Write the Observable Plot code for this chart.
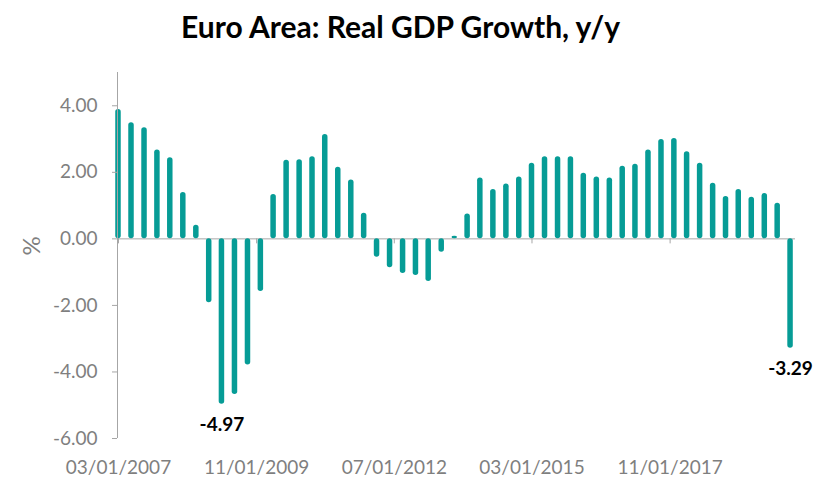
<!DOCTYPE html>
<html><head><meta charset="utf-8">
<script src="https://cdn.jsdelivr.net/npm/d3@7"></script>
<script src="https://cdn.jsdelivr.net/npm/@observablehq/plot@0.6"></script>
<style>
body{margin:0;background:#fff;font-family:Lato,sans-serif;}
#title{height:60px;box-sizing:border-box;padding-top:11px;padding-right:12px;text-align:center;font-weight:bold;font-size:30px;line-height:1;color:#000;}
#chart svg{display:block;}
</style></head><body>
<div id="title">Euro Area: Real GDP Growth, y/y</div>
<div id="chart"></div>
<script>
const quarters = [
 "2007-03-01","2007-06-01","2007-09-01","2007-12-01",
 "2008-03-01","2008-06-01","2008-09-01","2008-12-01",
 "2009-03-01","2009-06-01","2009-09-01","2009-12-01",
 "2010-03-01","2010-06-01","2010-09-01","2010-12-01",
 "2011-03-01","2011-06-01","2011-09-01","2011-12-01",
 "2012-03-01","2012-06-01","2012-09-01","2012-12-01",
 "2013-03-01","2013-06-01","2013-09-01","2013-12-01",
 "2014-03-01","2014-06-01","2014-09-01","2014-12-01",
 "2015-03-01","2015-06-01","2015-09-01","2015-12-01",
 "2016-03-01","2016-06-01","2016-09-01","2016-12-01",
 "2017-03-01","2017-06-01","2017-09-01","2017-12-01",
 "2018-03-01","2018-06-01","2018-09-01","2018-12-01",
 "2019-03-01","2019-06-01","2019-09-01","2019-12-01",
 "2020-03-01"];
const growth = [
 3.89, 3.49, 3.34, 2.67,
 2.44, 1.39, 0.41, -1.92,
 -4.97, -4.68, -3.79, -1.58,
 1.33, 2.36, 2.38, 2.47,
 3.14, 2.15, 1.77, 0.77,
 -0.55, -0.87, -1.04, -1.10,
 -1.28, -0.40, 0.08, 0.75,
 1.83, 1.48, 1.65, 1.86,
 2.27, 2.47, 2.47, 2.47,
 1.97, 1.86, 1.83, 2.18,
 2.24, 2.67, 2.99, 3.02,
 2.62, 2.27, 1.67, 1.27,
 1.48, 1.25, 1.36, 1.07,
 -3.29];
const labeledQuarters = ["2009-03-01", "2020-03-01"];
const xTickDates = ["2007-03-01","2009-11-01","2012-07-01","2015-03-01","2017-11-01"];
const xTickLabels = ["03/01/2007","11/01/2009","07/01/2012","03/01/2015","11/01/2017"];
const yTicks = [-6, -4, -2, 0, 2, 4];
const xDomainDates = ["2007-02-22", "2020-04-05"];
const yDomain = [-6, 5];

const parse = d3.utcParse("%Y-%m-%d");
const data = quarters.map((q, i) => ({date: parse(q), value: growth[i]}));
const labeled = data.filter(d => labeledQuarters.includes(d3.utcFormat("%Y-%m-%d")(d.date)));
const xTicks = xTickDates.map(parse);
const tickLabelMap = new Map(xTicks.map((d, i) => [+d, xTickLabels[i]]));
const xDomain = xDomainDates.map(parse);

const teal = "#069c96";
const grayLine = "#a6a6a6";
const grayText = "#7f7f7f";

const chart = Plot.plot({
  width: 813,
  height: 427,
  marginTop: 12,
  marginBottom: 49,
  marginLeft: 117,
  marginRight: 18,
  style: {fontFamily: "Lato, sans-serif", background: "#fff"},
  x: {type: "utc", domain: xDomain},
  y: {domain: yDomain},
  marks: [
    Plot.ruleY([0], {stroke: grayLine, strokeWidth: 1}),
    Plot.ruleX(xTicks, {x: d => d, y1: 0, y2: 0, insetBottom: -5, stroke: grayLine}),
    Plot.rect(data, {x1: "date", x2: "date", y1: 0, y2: "value", insetLeft: -2.75, insetRight: -2.75, rx: 2.75, fill: teal}),
    Plot.ruleX([xDomain[0]], {stroke: grayLine, strokeWidth: 1}),
    Plot.axisY({ticks: yTicks, tickFormat: d => d.toFixed(2), tickSize: 5, tickPadding: 15, stroke: grayLine, fill: grayText, fontSize: 19, label: null}),
    Plot.axisX({ticks: xTicks, tickFormat: d => tickLabelMap.get(+d), tickSize: 0, tickPadding: 22, fill: grayText, fontSize: 19, label: null}),
    Plot.text(["%"], {frameAnchor: "left", dx: -85, rotate: -90, fill: grayText, fontSize: 24}),
    Plot.text(labeled, {x: "date", y: "value", text: d => d.value.toFixed(2), dy: 21, fill: "#000", fontWeight: "bold", fontSize: 19})
  ]
});
document.getElementById("chart").appendChild(chart);
</script>
</body></html>
